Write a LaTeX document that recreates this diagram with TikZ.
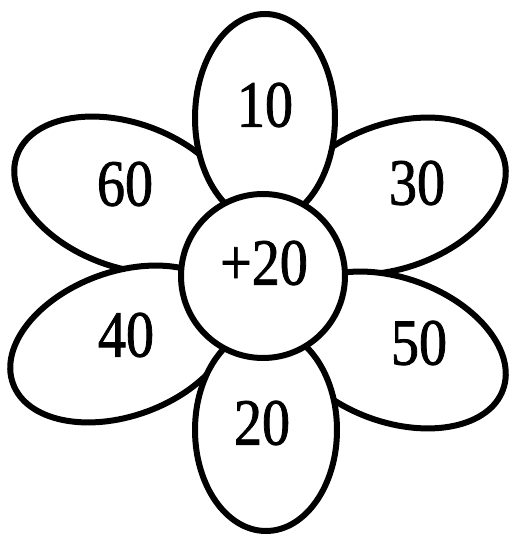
\documentclass[tikz,border=0pt]{standalone}
\usepackage{fontspec}
\setmainfont{Liberation Serif}
\newfontfamily\petalfont[FakeStretch=0.85,FakeBold=1.2]{Liberation Serif}
\begin{document}
\begin{tikzpicture}[x=1pt,y=1pt,
  petal/.style={draw=black,fill=white,line width=6pt},
  num/.style={inner sep=0pt,font=\petalfont\fontsize{66}{66}\selectfont}]
\useasboundingbox (0,0) rectangle (511,539);
% side petals
\draw[petal,rotate around={-20:(126,344)}] (126,344) ellipse [x radius=116, y radius=72];
\draw[petal,rotate around={20:(394,343)}] (394,343) ellipse [x radius=116, y radius=72];
\draw[petal,rotate around={20:(122,195)}] (122,195) ellipse [x radius=116, y radius=72];
\draw[petal,rotate around={-20:(394,189)}] (394,189) ellipse [x radius=116, y radius=72];
% vertical petals
\draw[petal] (265,421) ellipse [x radius=70, y radius=104];
\draw[petal] (266,109) ellipse [x radius=71, y radius=101];
% centre
\node[petal,circle,minimum size=164pt,inner sep=0pt] (c) at (263,263) {};
\node[num] (n10) at (265,434) {10};
\node[num] (n60) at (125,355) {60};
\node[num] (n30) at (417,356) {30};
\node[num] (np20) at (264,276) {+20};
\node[num] (n40) at (126,204) {40};
\node[num] (n50) at (419,196) {50};
\node[num] (n20) at (262,116) {20};
\end{tikzpicture}
\end{document}
